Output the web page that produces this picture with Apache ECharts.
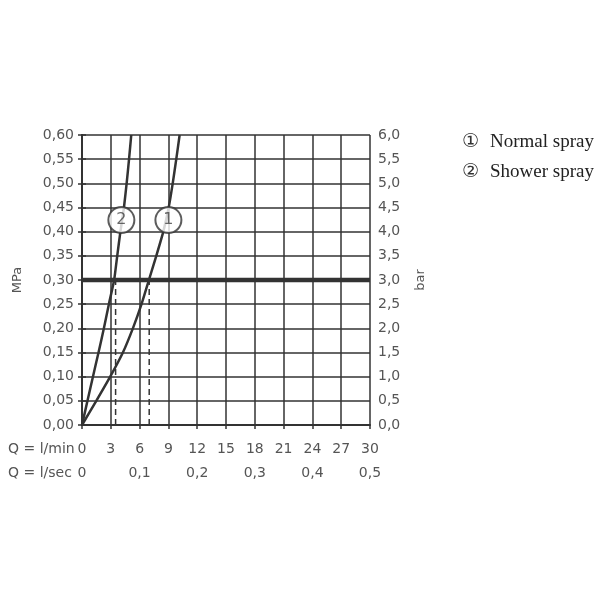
<!DOCTYPE html>
<html><head><meta charset="utf-8">
<script src="https://cdn.jsdelivr.net/npm/echarts@6/dist/echarts.min.js"></script>
<style>html,body{margin:0;padding:0;background:#fff}#c{width:600px;height:600px}</style>
</head><body><div id="c"></div>
<script>
// Normal spray (1): [flow l/min, pressure MPa]
const normalQ = [0, 1.49, 2.94, 4.26, 5.3, 6.2, 6.97, 7.74, 8.47, 9.03, 9.45, 9.82, 10.17];
const normalP = [0, 0.05, 0.10, 0.15, 0.20, 0.25, 0.30, 0.35, 0.40, 0.45, 0.50, 0.55, 0.60];
// Shower spray (2)
const showerQ = [0, 0.57, 1.14, 1.72, 2.28, 2.8, 3.35, 3.67, 4.0, 4.37, 4.65, 4.9, 5.13];
const showerP = [0, 0.05, 0.10, 0.15, 0.20, 0.25, 0.30, 0.35, 0.40, 0.45, 0.50, 0.55, 0.60];
const refPressure = 0.30;
const refFlows = [3.5, 7.0];
const labelPoints = [{name: '1', q: 9.0, p: 0.424}, {name: '2', q: 4.1, p: 0.424}];
const legendMarks = ['\u2460', '\u2461'];
const legendNames = ['Normal spray', 'Shower spray'];

const LINE = '#333';
const TXT = '#555';
const FONT = 'DejaVu Sans';
const zip = (a, b) => a.map((v, i) => [v, b[i]]);
const comma = d => v => (v === 0 && d === 1) ? '0' : v.toFixed(d).replace('.', ',');

const chart = echarts.init(document.getElementById('c'));
chart.setOption({
  animation: false,
  grid: {left: 82, right: 230, top: 135, bottom: 175},
  xAxis: [{
    type: 'value', min: 0, max: 30, interval: 3,
    axisLine: {show: true, onZero: false, lineStyle: {color: LINE, width: 2}},
    axisTick: {show: true, length: 4, lineStyle: {color: LINE, width: 1.5}},
    splitLine: {show: true, lineStyle: {color: LINE, width: 1.5}},
    axisLabel: {color: TXT, fontFamily: FONT, fontSize: 14, margin: 17}
  }, {
    type: 'value', min: 0, max: 0.5, interval: 0.1, position: 'bottom',
    axisLine: {show: false}, axisTick: {show: false}, splitLine: {show: false},
    axisLabel: {color: TXT, fontFamily: FONT, fontSize: 14, margin: 41, formatter: comma(1)}
  }],
  yAxis: [{
    type: 'value', min: 0, max: 0.6, interval: 0.05, position: 'left',
    name: 'MPa', nameLocation: 'middle', nameGap: 58, nameRotate: 90,
    nameTextStyle: {color: TXT, fontFamily: FONT, fontSize: 13},
    axisLine: {show: true, lineStyle: {color: LINE, width: 2}},
    axisTick: {show: true, length: 4, lineStyle: {color: LINE, width: 1.5}},
    splitLine: {show: true, lineStyle: {color: LINE, width: 1.5}},
    axisLabel: {color: TXT, fontFamily: FONT, fontSize: 14, margin: 8, formatter: comma(2)}
  }, {
    type: 'value', min: 0, max: 6, interval: 0.5, position: 'right',
    name: 'bar', nameLocation: 'middle', nameGap: 44, nameRotate: 90,
    nameTextStyle: {color: TXT, fontFamily: FONT, fontSize: 13},
    axisLine: {show: true, lineStyle: {color: LINE, width: 2}},
    axisTick: {show: true, length: 4, lineStyle: {color: LINE, width: 1.5}},
    splitLine: {show: false},
    axisLabel: {color: TXT, fontFamily: FONT, fontSize: 14, margin: 8,
      formatter: v => v.toFixed(1).replace('.', ',')}
  }],
  series: [
    {type: 'line', data: zip(normalQ, normalP), smooth: 0.15, showSymbol: false,
     lineStyle: {color: LINE, width: 2.5}, z: 3},
    {type: 'line', data: zip(showerQ, showerP), smooth: 0.15, showSymbol: false,
     lineStyle: {color: LINE, width: 2.5}, z: 3},
    ...refFlows.map(q => ({type: 'line', data: [[q, 0], [q, refPressure]], showSymbol: false,
     lineStyle: {color: LINE, width: 1.5, type: [6, 4]}, z: 2})),
    {type: 'line', data: [[0, refPressure], [30, refPressure]], showSymbol: false,
     lineStyle: {color: LINE, width: 4.5}, z: 4},
    {type: 'scatter', data: labelPoints.map(d => ({value: [d.q, d.p], name: d.name})),
     symbol: 'circle', symbolSize: 26,
     itemStyle: {color: '#fff', borderColor: LINE, borderWidth: 2},
     label: {show: true, position: 'inside', formatter: p => p.name, color: '#444', fontFamily: FONT, fontSize: 16},
     z: 5}
  ],
  graphic: [
    {type: 'text', left: 8, top: 442, style: {text: 'Q = l/min', fill: TXT, font: '14px "DejaVu Sans"'}},
    {type: 'text', left: 8, top: 466, style: {text: 'Q = l/sec', fill: TXT, font: '14px "DejaVu Sans"'}},
    ...legendMarks.map((t, i) => ({type: 'text', left: 462, top: 133 + i * 30,
      style: {text: t, fill: '#333', font: '19px "DejaVu Sans"'}})),
    ...legendNames.map((t, i) => ({type: 'text', left: 490, top: 133 + i * 30,
      style: {text: t, fill: '#222', font: '19px "Liberation Serif"'}}))
  ]
});
</script></body></html>
